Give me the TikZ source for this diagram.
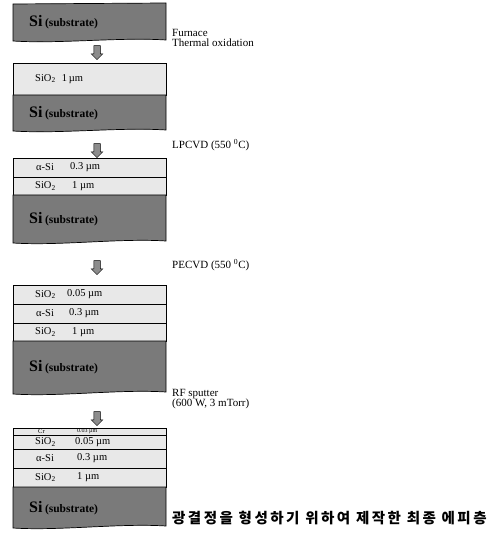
\documentclass[tikz,border=0pt]{standalone}
\usepackage{fontspec}
\setmainfont{Liberation Serif}
\newfontfamily\kofont[LetterSpace=17]{Noto Sans CJK KR}
\usetikzlibrary{shapes.arrows}

\begin{document}
\begin{tikzpicture}[x=1pt, y=-1pt,
    layer/.style={draw, fill=black!9, line width=0.6pt, inner sep=0pt,
                  minimum width=153pt, anchor=north west},
    subst/.style={draw, fill=black!52, line width=0.7pt},
    mat/.style={font=\fontsize{10.5}{10}\selectfont, inner sep=0pt, anchor=west},
    sublbl/.style={inner sep=0pt, anchor=west},
    downarrow/.style={single arrow, draw, fill=black!45, line width=0.5pt,
                      rotate=-90, minimum height=14pt, inner sep=3pt,
                      single arrow head extend=2.5pt},
    note/.style={font=\fontsize{11}{12}\selectfont, inner sep=0pt, anchor=west,
                 align=left}
  ]
  \useasboundingbox[fill=white] (0,0) rectangle (496,553);
  \newcommand{\sisub}{{\fontsize{16}{16}\selectfont\bfseries Si}
                      {\fontsize{11.5}{12}\selectfont\bfseries (substrate)}}

  % Stack 1
  \filldraw[subst] (13,4) -- (166,3) -- (166,40)
      .. controls (120,37) and (60,44) .. (13,41) -- cycle;
  \node[sublbl] (s1s) at (29,22) {\sisub};
  \node[downarrow] (a1) at (97,51) {};
  \node[note] (n1) at (172,38) {Furnace\\[-2pt]Thermal oxidation};

  % Stack 2
  \node[layer, minimum height=32pt] (s2a) at (13,63) {};
  \node[mat] (s2am) at (35,79) {SiO\textsubscript{2}\,\, 1\,µm};
  \filldraw[subst] (13,95) -- (166,95) -- (166,130)
      .. controls (120,127) and (60,134) .. (13,131) -- cycle;
  \node[sublbl] (s2s) at (29,113) {\sisub};
  \node[downarrow] (a2) at (97,149) {};
  \node[note] (n2) at (172,145) {LPCVD (550 \textsuperscript{0}C)};

  % Stack 3
  \node[layer, minimum height=19pt] (s3a) at (13,158) {};
  \node[mat] (s3am) at (36,167.5) {α-Si};
  \node[mat] (s3at) at (70,167.5) {0.3 µm};
  \node[layer, minimum height=18pt] (s3b) at (13,177) {};
  \node[mat] (s3bm) at (35,186) {SiO\textsubscript{2}};
  \node[mat] (s3bt) at (72,186) {1 µm};
  \filldraw[subst] (13,195) -- (166,195) -- (166,241)
      .. controls (120,238) and (60,246) .. (13,243) -- cycle;
  \node[sublbl] (s3s) at (29,219) {\sisub};
  \node[downarrow] (a3) at (97,266) {};
  \node[note] (n3) at (172,265) {PECVD (550 \textsuperscript{0}C)};

  % Stack 4
  \node[layer, minimum height=19pt] (s4a) at (13,285) {};
  \node[mat] (s4am) at (35,294.5) {SiO\textsubscript{2}};
  \node[mat] (s4at) at (67,294.5) {0.05 µm};
  \node[layer, minimum height=19pt] (s4b) at (13,304) {};
  \node[mat] (s4bm) at (36,313.5) {α-Si};
  \node[mat] (s4bt) at (69,313.5) {0.3 µm};
  \node[layer, minimum height=18pt] (s4c) at (13,323) {};
  \node[mat] (s4cm) at (35,332) {SiO\textsubscript{2}};
  \node[mat] (s4ct) at (72,332) {1 µm};
  \filldraw[subst] (13,341) -- (166,341) -- (166,392)
      .. controls (120,389) and (60,397) .. (13,394) -- cycle;
  \node[sublbl] (s4s) at (29,367) {\sisub};
  \node[downarrow] (a4) at (97,417) {};
  \node[note] (n4) at (172,399) {RF sputter\\[-2pt](600 W, 3 mTorr)};

  % Stack 5
  \node[layer, minimum height=7pt] (s5a) at (13,428) {};
  \node[mat, font=\fontsize{6.5}{6}\selectfont] (s5am) at (38,431.5) {Cr};
  \node[mat, font=\fontsize{6}{6}\selectfont] (s5at) at (77,431.5) {0.03 µm};
  \node[layer, minimum height=14pt] (s5b) at (13,435) {};
  \node[mat] (s5bm) at (35,442) {SiO\textsubscript{2}};
  \node[mat] (s5bt) at (75,442) {0.05 µm};
  \node[layer, minimum height=19pt] (s5c) at (13,449) {};
  \node[mat] (s5cm) at (36,458.5) {α-Si};
  \node[mat] (s5ct) at (77,458.5) {0.3 µm};
  \node[layer, minimum height=19pt] (s5d) at (13,468) {};
  \node[mat] (s5dm) at (35,477.5) {SiO\textsubscript{2}};
  \node[mat] (s5dt) at (77,477.5) {1 µm};
  \filldraw[subst] (13,487) -- (166,487) -- (166,526)
      .. controls (120,523) and (60,531) .. (13,528) -- cycle;
  \node[sublbl] (s5s) at (29,508) {\sisub};
  \node[note, font=\kofont\bfseries\fontsize{14.5}{15}\selectfont] (n5) at (172,518)
        {광결정을 형성하기 위하여 제작한 최종 에피층};
\end{tikzpicture}
\end{document}
